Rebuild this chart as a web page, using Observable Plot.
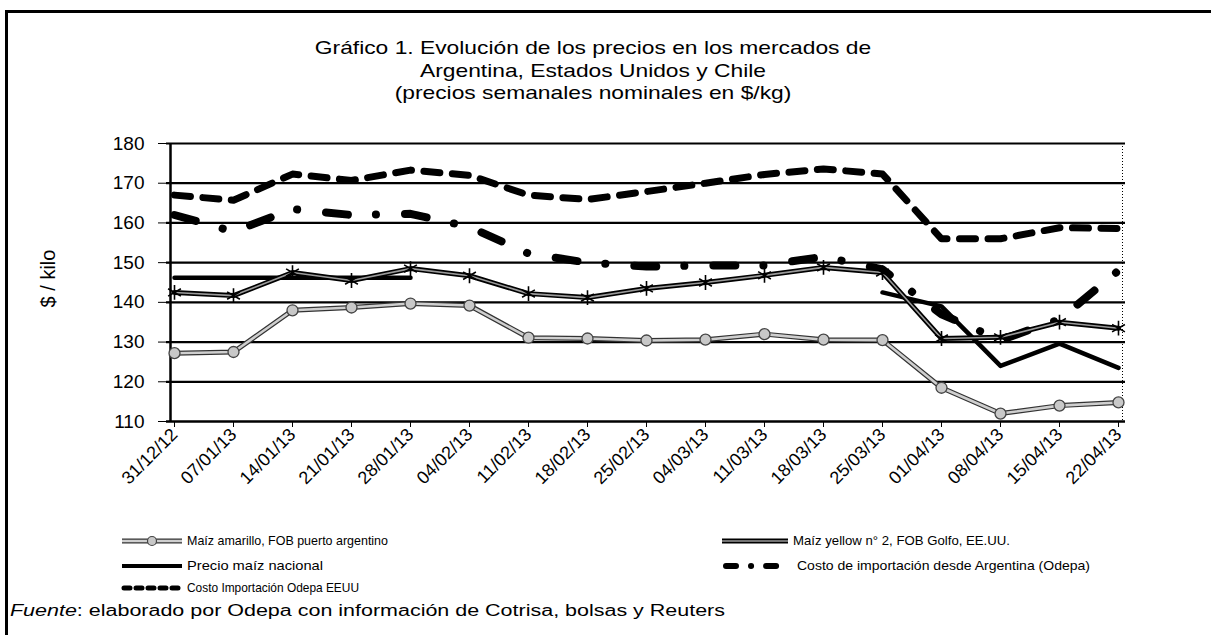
<!DOCTYPE html>
<html>
<head>
<meta charset="utf-8">
<script src="https://cdn.jsdelivr.net/npm/d3@7"></script>
<script src="https://cdn.jsdelivr.net/npm/@observablehq/plot@0.6"></script>
<style>
  html, body { margin: 0; padding: 0; background: #fff; }
  body { width: 1211px; height: 635px; position: relative; overflow: hidden; font-family: "Liberation Sans", Arial, sans-serif; color: #000; }
  #chart { position: absolute; left: 0; top: 0; }
  .border-top { position: absolute; left: 5px; top: 10px; width: 1206px; height: 3px; background: #000; }
  .border-left { position: absolute; left: 5px; top: 10px; width: 3px; height: 625px; background: #000; }
  #title { position: absolute; left: 0; top: 37px; width: 1186px; text-align: center; font-size: 19px; line-height: 22.5px; }
  #title div { transform: scaleX(1.2); transform-origin: center; }
  .leg { position: absolute; display: flex; align-items: center; font-size: 13px; white-space: nowrap; }
  .leg svg { margin-right: 3px; flex: none; }
  .leg span { display: inline-block; transform-origin: left center; }
  #fuente { position: absolute; left: 10px; top: 602px; font-size: 16px; white-space: nowrap; transform-origin: left center; }
</style>
</head>
<body>
<div class="border-top"></div>
<div class="border-left"></div>
<div id="title">
  <div>Gráfico 1. Evolución de los precios en los mercados de</div>
  <div>Argentina, Estados Unidos y Chile</div>
  <div>(precios semanales nominales en $/kg)</div>
</div>
<div id="chart"></div>
<div id="legend"></div>
<div id="fuente"><i>Fuente</i>: elaborado por Odepa con información de Cotrisa, bolsas y Reuters</div>
<script>
// ---- data ----
const dates = ["31/12/12","07/01/13","14/01/13","21/01/13","28/01/13","04/02/13","11/02/13","18/02/13","25/02/13","04/03/13","11/03/13","18/03/13","25/03/13","01/04/13","08/04/13","15/04/13","22/04/13"];
const maizAmarilloArg = [127.2, 127.5, 138.0, 138.7, 139.7, 139.2, 131.1, 130.9, 130.4, 130.6, 132.0, 130.6, 130.5, 118.5, 112.0, 114.0, 114.8];
const maizYellowEEUU  = [142.5, 141.7, 147.5, 145.5, 148.5, 146.7, 142.2, 141.2, 143.5, 145.0, 146.8, 148.8, 147.5, 130.9, 131.2, 135.0, 133.5];
const precioNacional  = [146.2, 146.2, 146.2, 146.2, 146.2, null, null, null, null, null, null, null, 142.5, 139.0, 124.0, 129.6, 123.5];
const costoArgentina  = [162.0, 157.8, 163.5, 162.0, 162.3, 159.0, 152.3, 150.0, 149.0, 149.3, 149.3, 151.5, 148.3, 137.0, 130.5, 135.7, 148.0];
const costoEEUU       = [167.0, 165.7, 172.3, 170.7, 173.3, 172.0, 167.0, 165.9, 167.9, 170.0, 172.2, 173.6, 172.3, 156.0, 156.0, 158.8, 158.6];
const yTicks = [110, 120, 130, 140, 150, 160, 170, 180];
const seriesNames = ["Maíz amarillo, FOB puerto argentino", "Maíz yellow n° 2, FOB Golfo, EE.UU.", "Precio maíz nacional", "Costo de importación desde Argentina (Odepa)", "Costo Importación Odepa EEUU"];

// ---- layout (not data) ----
const legPos = [[120, 541], [720, 541], [120, 566], [720, 566], [120, 588]];
const legTextWidth = [201, 217, 136, 293, 172];
const fuenteWidth = 715;

const ser = (vals) => dates.map((d, i) => ({date: d, v: vals[i]}));

const W = 1211, H = 635;
const chart = Plot.plot({
  width: W, height: H,
  marginLeft: 166, marginRight: 86, marginTop: 143, marginBottom: 214,
  style: {fontFamily: "'Liberation Sans', Arial, sans-serif", color: "#000", background: "transparent", overflow: "visible"},
  x: {type: "point", domain: dates, padding: 0.068},
  y: {domain: [110, 180]},
  marks: [
    Plot.gridY(yTicks.filter(t => t > 110), {stroke: "#000", strokeOpacity: 1, strokeWidth: 2.2}),
    Plot.ruleY([110], {stroke: "#000", strokeWidth: 2.5}),
    Plot.ruleX([dates[dates.length - 1]], {dx: 4, stroke: "#000", strokeWidth: 1, strokeDasharray: "1 2"}),
    Plot.ruleX([dates[0]], {dx: -4, stroke: "#000", strokeWidth: 2.5}),
    Plot.axisY({ticks: yTicks, tickSize: 8, tickPadding: 14, fontSize: 19, label: null}),
    Plot.axisY({ticks: yTicks, tickSize: 4, dx: 4, anchor: "left", text: null, label: null}),
    Plot.axisX({tickRotate: -45, tickSize: 6, tickPadding: 4, fontSize: 18, label: null}),
    // Costo Importación Odepa EEUU (dashed)
    Plot.line(ser(costoEEUU), {x: "date", y: "v", stroke: "#000", strokeWidth: 7, strokeDasharray: "16 12.5", strokeLinecap: "round"}),
    // Costo de importación desde Argentina (dash-dot)
    Plot.line(ser(costoArgentina), {x: "date", y: "v", stroke: "#000", strokeWidth: 8, strokeDasharray: "22 28 0.1 29", strokeLinecap: "round"}),
    // Precio maíz nacional
    Plot.line(ser(precioNacional), {x: "date", y: "v", stroke: "#000", strokeWidth: 4.5}),
    // Maíz yellow n°2
    Plot.line(ser(maizYellowEEUU), {x: "date", y: "v", stroke: "#000", strokeWidth: 5}),
    Plot.line(ser(maizYellowEEUU), {x: "date", y: "v", stroke: "#9a9a9a", strokeWidth: 1.6}),
    Plot.dot(ser(maizYellowEEUU), {x: "date", y: "v", symbol: "asterisk", r: 7, stroke: "#000", strokeWidth: 1.6}),
    // Maíz amarillo argentino
    Plot.line(ser(maizAmarilloArg), {x: "date", y: "v", stroke: "#333", strokeWidth: 5}),
    Plot.line(ser(maizAmarilloArg), {x: "date", y: "v", stroke: "#cfcfcf", strokeWidth: 2.6}),
    Plot.dot(ser(maizAmarilloArg), {x: "date", y: "v", r: 5.5, fill: "#c8c8c8", stroke: "#444", strokeWidth: 1.3}),
    Plot.text(["$ / kilo"], {frameAnchor: "left", textAnchor: "middle", dx: -118, dy: -4, rotate: -90, fontSize: 20})
  ]
});
document.getElementById("chart").appendChild(chart);

// ---- legend ----
const swatches = [
  `<svg width="64" height="14"><line x1="2" y1="7" x2="62" y2="7" stroke="#333" stroke-width="5"/><line x1="2" y1="7" x2="62" y2="7" stroke="#cfcfcf" stroke-width="2.6"/><circle cx="32" cy="7" r="4.5" fill="#c8c8c8" stroke="#444" stroke-width="1.2"/></svg>`,
  `<svg width="70" height="14"><line x1="2" y1="7" x2="68" y2="7" stroke="#000" stroke-width="5"/><line x1="2" y1="7" x2="68" y2="7" stroke="#9a9a9a" stroke-width="1.6"/></svg>`,
  `<svg width="64" height="14"><line x1="2" y1="7" x2="62" y2="7" stroke="#000" stroke-width="4"/></svg>`,
  `<svg width="74" height="14"><line x1="6" y1="7" x2="68" y2="7" stroke="#000" stroke-width="6" stroke-linecap="round" stroke-dasharray="10 15 0.1 15"/></svg>`,
  `<svg width="64" height="14"><line x1="4" y1="7" x2="62" y2="7" stroke="#000" stroke-width="5" stroke-linecap="round" stroke-dasharray="6 6"/></svg>`
];
const legend = document.getElementById("legend");
seriesNames.forEach((name, i) => {
  const d = document.createElement("div");
  d.className = "leg";
  d.style.left = legPos[i][0] + "px";
  d.style.top = (legPos[i][1] - 8) + "px";
  d.innerHTML = swatches[i] + `<span>${name}</span>`;
  legend.appendChild(d);
  const sp = d.querySelector("span");
  const w = sp.getBoundingClientRect().width;
  sp.style.transform = `scaleX(${legTextWidth[i] / w})`;
});
const f = document.getElementById("fuente");
f.style.transform = `scaleX(${fuenteWidth / f.getBoundingClientRect().width})`;
</script>
</body>
</html>
